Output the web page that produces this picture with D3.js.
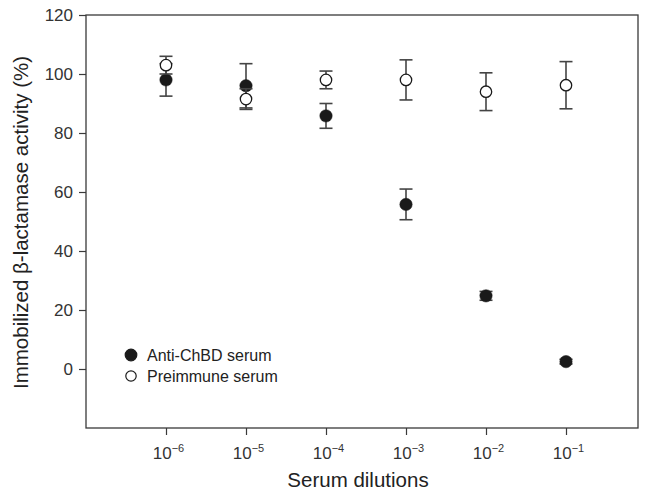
<!DOCTYPE html>
<html>
<head>
<meta charset="utf-8">
<script src="https://cdn.jsdelivr.net/npm/d3@7"></script>
<style>
  html, body { margin: 0; padding: 0; background: #fff; }
  svg { display: block; font-family: "Liberation Sans", Arial, sans-serif; }
</style>
</head>
<body>
<svg id="chart" width="648" height="492"></svg>
<script>
// Dilution exponents (10^x)
const dilutionExponents = [-6, -5, -4, -3, -2, -1];
const yTicks = [0, 20, 40, 60, 80, 100, 120];

// Anti-ChBD serum (filled)
const antiMean = [98, 96, 85.8, 55.8, 24.8, 2.5];
const antiErr  = [5.5, 7.5, 4.2, 5.2, 1.5, 0.8];

// Preimmune serum (open)
const preMean = [103, 91.5, 98, 98, 94, 96.2];
const preErr  = [3, 3.5, 3, 6.8, 6.4, 8];

const seriesNames = ["Anti-ChBD serum", "Preimmune serum"];

(function () {
const svg = d3.select("#chart");
const mLeft = 86, mRight = 638, mTop = 15, mBottom = 428;

const x = d3.scaleLinear().domain([-7, -0.1]).range([mLeft, mRight]);
const y = d3.scaleLinear().domain([-20, 120]).range([mBottom, mTop]);

const axisColor = "#3a3a3a";
const barColor = "#444";

// Frame
svg.append("rect")
  .attr("x", mLeft).attr("y", mTop)
  .attr("width", mRight - mLeft).attr("height", mBottom - mTop)
  .attr("fill", "none").attr("stroke", axisColor).attr("stroke-width", 1.3);

// Y axis
const yAxis = d3.axisLeft(y).tickValues(yTicks).tickSize(7).tickPadding(6);
const gy = svg.append("g").attr("transform", `translate(${mLeft},0)`).call(yAxis);
gy.select(".domain").remove();
gy.selectAll(".tick line").attr("stroke", axisColor).attr("stroke-width", 1.2);
gy.selectAll(".tick text").attr("font-size", 17).attr("fill", "#333")
  .attr("font-family", "Liberation Sans, Arial, sans-serif");

// X axis
const xAxis = d3.axisBottom(x).tickValues(dilutionExponents).tickSize(7).tickFormat("");
const gx = svg.append("g").attr("transform", `translate(0,${mBottom})`).call(xAxis);
gx.select(".domain").remove();
gx.selectAll(".tick line").attr("stroke", axisColor).attr("stroke-width", 1.2);
gx.selectAll(".tick").each(function(d) {
  const t = d3.select(this).append("text")
    .attr("y", 31).attr("x", 2).attr("fill", "#333").attr("text-anchor", "middle")
    .attr("font-size", 17).attr("font-family", "Liberation Sans, Arial, sans-serif");
  t.append("tspan").text("10");
  t.append("tspan").attr("dy", -7).attr("font-size", 11).text("\u2212" + Math.abs(d));
});

// Axis titles
svg.append("text")
  .attr("x", (mLeft + mRight) / 2 - 4).attr("y", 487)
  .attr("text-anchor", "middle").attr("font-size", 20.5).attr("fill", "#222")
  .text("Serum dilutions");
svg.append("text")
  .attr("transform", `translate(28,${(mTop + mBottom) / 2 + 1}) rotate(-90)`)
  .attr("text-anchor", "middle").attr("font-size", 20.5).attr("fill", "#222")
  .text("Immobilized \u03b2-lactamase activity (%)");

function drawSeries(means, errs, filled) {
  const g = svg.append("g");
  const data = dilutionExponents.map((e, i) => ({ e, m: means[i], s: errs[i] }));
  const cap = 6.5;
  data.forEach(d => {
    const cx = x(d.e);
    g.append("line").attr("x1", cx).attr("x2", cx)
      .attr("y1", y(d.m + d.s)).attr("y2", y(d.m - d.s))
      .attr("stroke", barColor).attr("stroke-width", 1.6);
    [d.m + d.s, d.m - d.s].forEach(v => {
      g.append("line").attr("x1", cx - cap).attr("x2", cx + cap)
        .attr("y1", y(v)).attr("y2", y(v))
        .attr("stroke", barColor).attr("stroke-width", 1.6);
    });
  });
  g.selectAll("circle").data(data).join("circle")
    .attr("cx", d => x(d.e)).attr("cy", d => y(d.m)).attr("r", filled ? 6.2 : 5.7)
    .attr("fill", filled ? "#1a1a1a" : "#fff")
    .attr("stroke", "#1a1a1a").attr("stroke-width", filled ? 0.5 : 1.3);
}

drawSeries(antiMean, antiErr, true);
drawSeries(preMean, preErr, false);

// Legend
const legend = svg.append("g");
seriesNames.forEach((name, i) => {
  const ly = 355 + i * 21;
  legend.append("circle").attr("cx", 131).attr("cy", ly)
    .attr("r", i === 0 ? 5.8 : 5.2)
    .attr("fill", i === 0 ? "#1a1a1a" : "#fff")
    .attr("stroke", "#1a1a1a").attr("stroke-width", 1.2);
  legend.append("text").attr("x", 147).attr("y", ly + 6)
    .attr("font-size", 16).attr("fill", "#222").text(name);
});
})();
</script>
</body>
</html>
